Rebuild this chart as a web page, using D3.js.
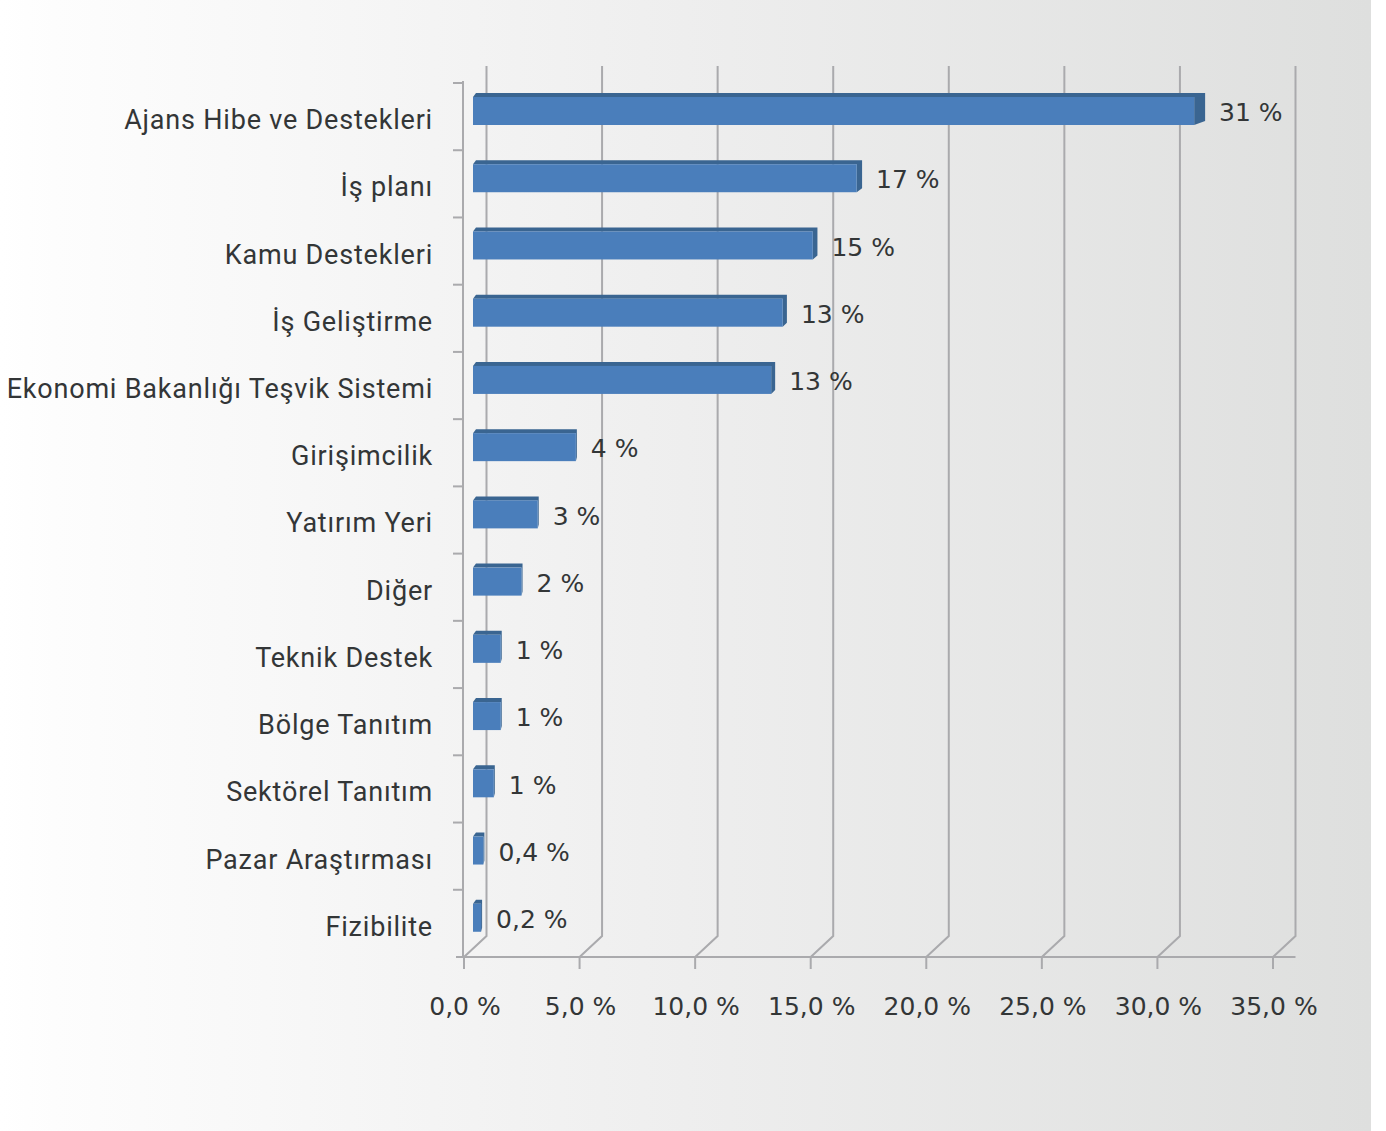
<!DOCTYPE html>
<html lang="tr">
<head>
    <meta charset="UTF-8">
    <title>Destek türleri</title>
    <style>
        body, html {
            margin: 0;
            padding: 0;
            background: #fff;
            font-family: Roboto, "Noto Sans", sans-serif;
        }
        #chart { width: 1386px; height: 1131px; }
        text { fill: #333637; }
        .cat { letter-spacing: 0.8px; }
        .num { font-family: "DejaVu Sans", sans-serif; letter-spacing: 0; }
    </style>
    <script src="https://d3js.org/d3.v7.min.js"></script>
</head>
<body>
    <div id="chart"></div>
    <script>
        // categories, top to bottom
        const categories = [
            "Ajans Hibe ve Destekleri", "İş planı", "Kamu Destekleri", "İş Geliştirme",
            "Ekonomi Bakanlığı Teşvik Sistemi", "Girişimcilik", "Yatırım Yeri", "Diğer",
            "Teknik Destek", "Bölge Tanıtım", "Sektörel Tanıtım", "Pazar Araştırması", "Fizibilite"
        ];
        // share (%)
        const values = [31.2, 16.6, 14.7, 13.4, 12.9, 4.45, 2.8, 2.1, 1.2, 1.2, 0.9, 0.45, 0.35];
        // data labels as printed
        const valueLabels = ["31 %", "17 %", "15 %", "13 %", "13 %", "4 %", "3 %", "2 %", "1 %", "1 %", "1 %", "0,4 %", "0,2 %"];
        const xTicks = [0, 5, 10, 15, 20, 25, 30, 35];
        const xTickLabels = ["0,0 %", "5,0 %", "10,0 %", "15,0 %", "20,0 %", "25,0 %", "30,0 %", "35,0 %"];

        const width = 1386, height = 1131;
        const depthX = 22.5, depthY = -21;   // back wall offset
        const barDX = 9;                      // bars sit part way into the depth

        const svg = d3.select("#chart").append("svg")
            .attr("width", width)
            .attr("height", height);

        // background gradient
        const defs = svg.append("defs");
        const grad = defs.append("linearGradient").attr("id", "bg")
            .attr("x1", 0).attr("x2", 1).attr("y1", 0).attr("y2", 0);
        grad.append("stop").attr("offset", "0%").attr("stop-color", "#ffffff");
        grad.append("stop").attr("offset", "4%").attr("stop-color", "#fdfdfd");
        grad.append("stop").attr("offset", "50%").attr("stop-color", "#eeeeee");
        grad.append("stop").attr("offset", "100%").attr("stop-color", "#dedfde");
        svg.append("rect").attr("width", 1371).attr("height", height).attr("fill", "url(#bg)");

        const x = d3.scaleLinear().domain([0, 35]).range([464, 1273]);
        const y = d3.scaleBand().domain(categories).range([83, 957]).padding(0);
        const axisBottom = 957;
        const backTop = 66;

        const grid = svg.append("g").attr("stroke", "#aaaaad").attr("stroke-width", 2).attr("fill", "none");

        // back wall gridlines + floor diagonals
        grid.selectAll(".gl").data(xTicks).enter().append("path")
            .attr("d", d => `M${x(d)},${axisBottom} L${x(d) + depthX},${axisBottom + depthY} L${x(d) + depthX},${backTop}`);

        // front x axis line and ticks
        grid.append("line")
            .attr("x1", 456).attr("x2", x(35) + depthX)
            .attr("y1", axisBottom).attr("y2", axisBottom);
        grid.selectAll(".xt").data(xTicks).enter().append("line")
            .attr("x1", d => x(d)).attr("x2", d => x(d))
            .attr("y1", axisBottom).attr("y2", axisBottom + 12);

        // left category axis
        grid.append("line")
            .attr("x1", 463).attr("x2", 463)
            .attr("y1", y.range()[0] - 2).attr("y2", axisBottom);
        grid.selectAll(".yt").data(categories).enter().append("line")
            .attr("x1", 453).attr("x2", 463)
            .attr("y1", d => y(d)).attr("y2", d => y(d));

        // bars (front, top, side)
        const bars = svg.append("g").selectAll("g").data(categories).enter().append("g");
        const faceTop = d => y(d) + 14;
        const x0 = x(0) + barDX;
        const xEnd = (d, i) => x0 + (x(values[i]) - x(0));
        const side = (d, i) => Math.max(1, (xEnd(d, i) - 530) * 0.0165);

        bars.append("path")
            .attr("fill", "#3a6591")
            .attr("d", (d, i) => {
                const t = faceTop(d), e = xEnd(d, i), s = side(d, i);
                return `M${x0},${t} L${x0 + 3},${t - 4} L${e + s},${t - 4} L${e + s},${t + 24} L${e},${t + 28} L${e},${t} Z`;
            });
        bars.append("rect")
            .attr("fill", "#4a7ebb")
            .attr("x", x0)
            .attr("y", d => faceTop(d))
            .attr("width", (d, i) => xEnd(d, i) - x0)
            .attr("height", 28);

        // value labels
        bars.append("text")
            .attr("class", "num")
            .attr("x", (d, i) => xEnd(d, i) + side(d, i) + 14)
            .attr("y", d => faceTop(d) + 15.5)
            .attr("dy", "0.35em")
            .attr("font-size", 25)
            .text((d, i) => valueLabels[i]);

        // category labels
        svg.append("g").selectAll("text").data(categories).enter().append("text")
            .attr("class", "cat")
            .attr("x", 433)
            .attr("y", d => y(d) + y.bandwidth() / 2 + 3)
            .attr("dy", "0.35em")
            .attr("text-anchor", "end")
            .attr("font-size", 27)
            .text(d => d);

        // x tick labels
        svg.append("g").selectAll("text").data(xTicks).enter().append("text")
            .attr("class", "num")
            .attr("x", d => x(d) + 1)
            .attr("y", 1006)
            .attr("dy", "0.35em")
            .attr("text-anchor", "middle")
            .attr("font-size", 25)
            .text((d, i) => xTickLabels[i]);
    </script>
</body>
</html>
